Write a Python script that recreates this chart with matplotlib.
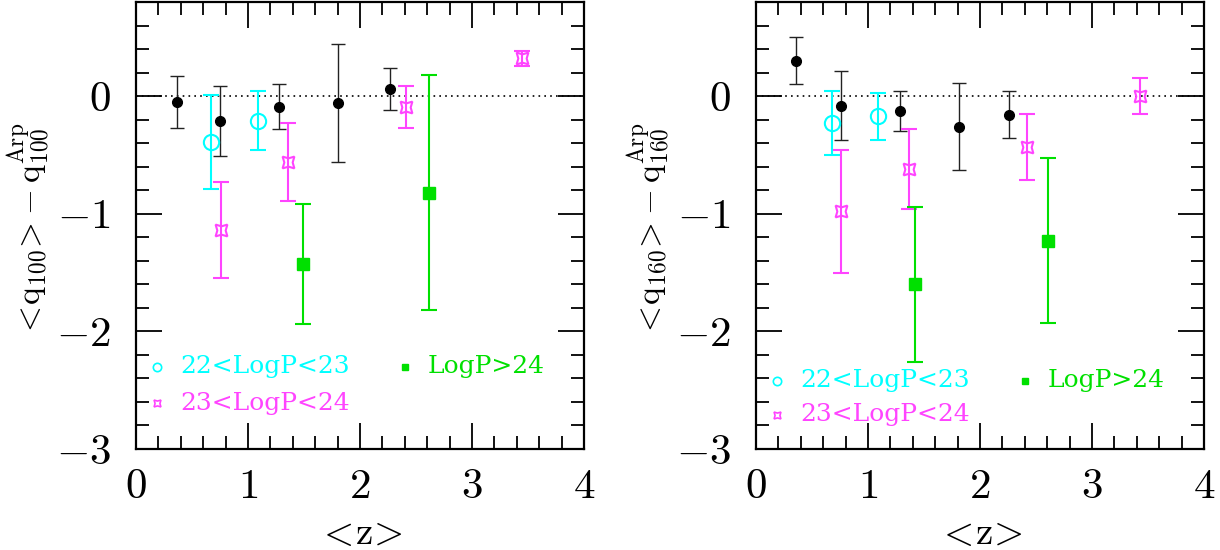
import matplotlib
matplotlib.use('Agg')
import matplotlib.pyplot as plt
from matplotlib.ticker import MultipleLocator

plt.rcParams['font.family'] = 'cmr10'
plt.rcParams['mathtext.fontset'] = 'cm'
plt.rcParams['axes.formatter.use_mathtext'] = True

# --- left panel: q100 ---
z_all_100 = [0.37, 0.75, 1.28, 1.80, 2.27]
q_all_100 = [-0.05, -0.21, -0.09, -0.06, 0.06]
e_all_100 = [0.22, 0.30, 0.19, 0.50, 0.18]

z_p22_100 = [0.67, 1.09]
q_p22_100 = [-0.39, -0.21]
e_p22_100 = [0.40, 0.25]

z_p23_100 = [0.76, 1.36, 2.41, 3.45]
q_p23_100 = [-1.14, -0.56, -0.09, 0.32]
e_p23_100 = [0.41, 0.33, 0.18, 0.06]

z_p24_100 = [1.49, 2.62]
q_p24_100 = [-1.43, -0.82]
e_p24_100 = [0.51, 1.00]

# --- right panel: q160 ---
z_all_160 = [0.36, 0.76, 1.29, 1.81, 2.26]
q_all_160 = [0.30, -0.08, -0.13, -0.26, -0.16]
e_all_160 = [0.20, 0.29, 0.17, 0.37, 0.20]

z_p22_160 = [0.68, 1.09]
q_p22_160 = [-0.23, -0.17]
e_p22_160 = [0.27, 0.20]

z_p23_160 = [0.755, 1.37, 2.42, 3.43]
q_p23_160 = [-0.98, -0.62, -0.43, 0.00]
e_p23_160 = [0.52, 0.34, 0.28, 0.15]

z_p24_160 = [1.42, 2.61]
q_p24_160 = [-1.60, -1.23]
e_p24_160 = [0.66, 0.70]

labels = ['22<LogP<23', '23<LogP<24', 'LogP>24']
ylabels = [r'$<\!\mathrm{q}_{100}\!>\!-\mathrm{q}_{100}^{\mathrm{Arp}}$',
           r'$<\!\mathrm{q}_{160}\!>\!-\mathrm{q}_{160}^{\mathrm{Arp}}$']

cyan = '#00ffff'
mag = '#ff44ff'
green = '#00e000'
star = (4, 1, 45)

fig = plt.figure(figsize=(12.2, 5.5), dpi=100)
ax1 = fig.add_axes([136/1220, 101/550, 448/1220, 447/550])
ax2 = fig.add_axes([756/1220, 101/550, 448/1220, 447/550])

panels = [
    (ax1, z_all_100, q_all_100, e_all_100, z_p22_100, q_p22_100, e_p22_100,
     z_p23_100, q_p23_100, e_p23_100, z_p24_100, q_p24_100, e_p24_100, -2.30, -2.61),
    (ax2, z_all_160, q_all_160, e_all_160, z_p22_160, q_p22_160, e_p22_160,
     z_p23_160, q_p23_160, e_p23_160, z_p24_160, q_p24_160, e_p24_160, -2.42, -2.71),
]

for i, p in enumerate(panels):
    ax = p[0]
    ax.axhline(0, color='black', ls=(0, (1, 2.5)), lw=1.2, zorder=1)
    ax.errorbar(p[1], p[2], yerr=p[3], fmt='o', color='black', ms=7,
                ecolor='#222222', elinewidth=1.0, capsize=5, capthick=1.0)
    ax.errorbar(p[4], p[5], yerr=p[6], fmt='o', mfc='none', mec=cyan, mew=1.5,
                ms=11, ecolor=cyan, elinewidth=1.5, capsize=6, capthick=1.5)
    ax.errorbar(p[7], p[8], yerr=p[9], fmt='none', ecolor=mag,
                elinewidth=1.5, capsize=6, capthick=1.5)
    ax.plot(p[7], p[8], ls='none', marker=star, ms=12, mfc='none', mec=mag, mew=1.5)
    ax.errorbar(p[10], p[11], yerr=p[12], fmt='s', color=green, ms=8,
                ecolor=green, elinewidth=1.5, capsize=6, capthick=1.5)

    # legend written inside the panel
    y1, y2 = p[13], p[14]
    ax.plot([0.19], [y1], 'o', mfc='none', mec=cyan, ms=6, mew=1.2)
    ax.text(0.40, y1, labels[0], color=cyan, fontsize=18, va='center', family='DejaVu Serif')
    ax.plot([0.19], [y2], ls='none', marker=star, ms=7, mfc='none', mec=mag, mew=1.2)
    ax.text(0.40, y2, labels[1], color=mag, fontsize=18, va='center', family='DejaVu Serif')
    ax.plot([2.40], [y1], 's', color=green, ms=5)
    ax.text(2.60, y1, labels[2], color=green, fontsize=18, va='center', family='DejaVu Serif')

    ax.set_xlim(0, 4)
    ax.set_ylim(-3, 0.8)
    ax.xaxis.set_major_locator(MultipleLocator(1))
    ax.xaxis.set_minor_locator(MultipleLocator(0.2))
    ax.yaxis.set_major_locator(MultipleLocator(1))
    ax.yaxis.set_minor_locator(MultipleLocator(0.2))
    ax.tick_params(which='both', direction='in', top=True, right=True, width=1.3)
    ax.tick_params(which='major', length=19, labelsize=31)
    ax.tick_params(axis='y', which='major', pad=18)
    ax.tick_params(axis='x', which='major', pad=14)
    ax.tick_params(which='minor', length=9.5)
    for s in ax.spines.values():
        s.set_linewidth(1.6)
    ax.set_xlabel(r'$<\!\mathrm{z}\!>$', fontsize=28)
    ax.xaxis.set_label_coords(0.5, -0.15)
    ax.set_ylabel(ylabels[i], fontsize=24, va='center')
    ax.yaxis.set_label_coords(-0.241, 0.49)

plt.savefig('out.png', dpi=100)
